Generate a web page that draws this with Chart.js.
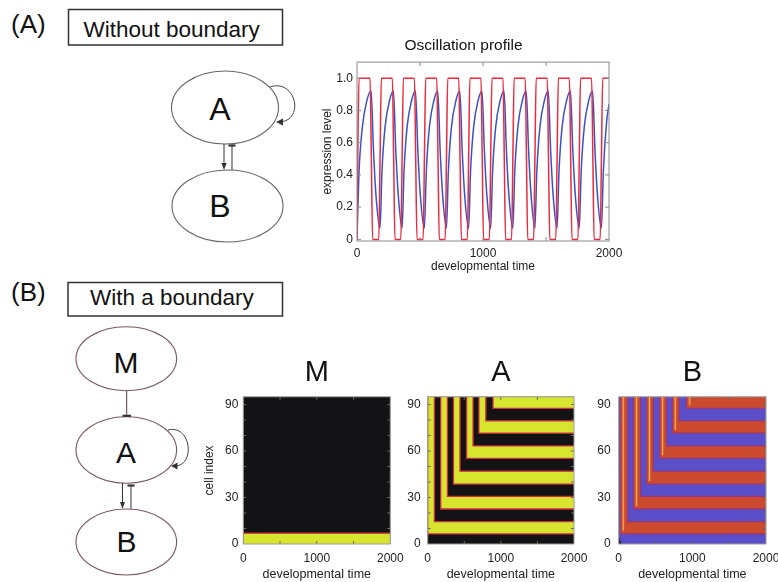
<!DOCTYPE html>
<html>
<head>
<meta charset="utf-8">
<script src="https://cdn.jsdelivr.net/npm/chart.js@4/dist/chart.umd.min.js"></script>
<style>
  html, body { margin: 0; padding: 0; background: #fff; }
  #page { position: relative; width: 778px; height: 582px; overflow: hidden; }
  .box { position: absolute; }
  svg { position: absolute; left: 0; top: 0; }
  svg text { font-family: 'Liberation Sans', Arial, sans-serif; fill: #111; }
</style>
</head>
<body>
<div id="page">
  <svg width="778" height="582" viewBox="0 0 778 582">
    <!-- (A) header -->
    <text x="11" y="33" font-size="26">(A)</text>
    <rect x="68.5" y="9.5" width="214" height="35.5" fill="none" stroke="#333" stroke-width="1.5"/>
    <text x="83.5" y="37" font-size="22.5">Without boundary</text>
    <!-- A/B network -->
    <ellipse cx="225" cy="107.5" rx="53.5" ry="36.5" fill="none" stroke="#666" stroke-width="1.1"/>
    <ellipse cx="227.5" cy="206" rx="55.5" ry="36" fill="none" stroke="#666" stroke-width="1.1"/>
    <text x="220" y="120" font-size="32" text-anchor="middle">A</text>
    <text x="220" y="216.5" font-size="32" text-anchor="middle">B</text>
    <line x1="224" y1="144" x2="224" y2="164" stroke="#333" stroke-width="1"/>
    <polygon points="221.3,163 226.7,163 224,170" fill="#333"/>
    <line x1="232" y1="170" x2="232" y2="146" stroke="#333" stroke-width="1"/>
    <line x1="228.5" y1="145.5" x2="235.5" y2="145.5" stroke="#333" stroke-width="2.2"/>
    <path d="M 270 87 C 296 78, 306 122, 278 122" fill="none" stroke="#444" stroke-width="1"/>
    <polygon points="276,122 283,118.5 283,125.5" fill="#333"/>

    <!-- (B) header -->
    <text x="11" y="301" font-size="26">(B)</text>
    <rect x="68" y="282.5" width="214.5" height="33.5" fill="none" stroke="#333" stroke-width="1.5"/>
    <text x="90" y="305" font-size="22.5">With a boundary</text>
    <!-- M/A/B network -->
    <ellipse cx="126.3" cy="358.7" rx="50.3" ry="32" fill="none" stroke="#7a5858" stroke-width="1.1"/>
    <ellipse cx="126.3" cy="450" rx="50.3" ry="33.3" fill="none" stroke="#7a5858" stroke-width="1.1"/>
    <ellipse cx="126.3" cy="542" rx="50.3" ry="33" fill="none" stroke="#7a5858" stroke-width="1.1"/>
    <text x="126" y="372.5" font-size="30" text-anchor="middle">M</text>
    <text x="126" y="463" font-size="30" text-anchor="middle">A</text>
    <text x="126.5" y="552" font-size="30" text-anchor="middle">B</text>
    <line x1="126.7" y1="390.7" x2="126.7" y2="416" stroke="#5a4040" stroke-width="1"/>
    <line x1="122.5" y1="415.8" x2="131" y2="415.8" stroke="#333" stroke-width="2.2"/>
    <line x1="122.5" y1="483" x2="122.5" y2="503" stroke="#333" stroke-width="1"/>
    <polygon points="120,502 125,502 122.5,509" fill="#333"/>
    <line x1="131" y1="509" x2="131" y2="486" stroke="#333" stroke-width="1"/>
    <line x1="127.5" y1="485.5" x2="134.5" y2="485.5" stroke="#333" stroke-width="2.2"/>
    <path d="M 168 430 C 192 424, 196 468, 173 466" fill="none" stroke="#444" stroke-width="1"/>
    <polygon points="171,466 177.5,462.5 177.5,469.5" fill="#333"/>
  </svg>

  <div class="box" style="left:318px;top:30px;width:310px;height:250px"><canvas id="osc"></canvas></div>
  <div class="box" style="left:198px;top:356px;width:206px;height:226px"><canvas id="hmM"></canvas></div>
  <div class="box" style="left:404px;top:356px;width:184px;height:226px"><canvas id="hmA"></canvas></div>
  <div class="box" style="left:595px;top:356px;width:183px;height:226px"><canvas id="hmB"></canvas></div>
</div>

<script>
// ================= DATA =================
// --- (A) oscillation profile ---
const timeTicks = [0, 1000, 2000];              // labelled time ticks
const timeMarks = [0, 500, 1000, 1500, 2000];   // tick marks on the time axis
const levelTicks = [0, 0.2, 0.4, 0.6, 0.8, 1.0];
const levelTickLabels = ['0', '0.2', '0.4', '0.6', '0.8', '1.0'];

// A expression level (red) : [time, level]
const aLevel = [
  [0,0],[6,0.5],[16,1],[104,1],[114,0.5],[124,0],
  [173,0],[183,0.5],[193,1],[281,1],[291,0.5],[301,0],
  [348,0],[358,0.5],[368,1],[456,1],[466,0.5],[476,0],
  [525,0],[535,0.5],[545,1],[633,1],[643,0.5],[653,0],
  [700,0],[710,0.5],[720,1],[808,1],[818,0.5],[828,0],
  [876,0],[886,0.5],[896,1],[984,1],[994,0.5],[1004,0],
  [1051,0],[1061,0.5],[1071,1],[1159,1],[1169,0.5],[1179,0],
  [1227,0],[1237,0.5],[1247,1],[1335,1],[1345,0.5],[1355,0],
  [1402,0],[1412,0.5],[1422,1],[1510,1],[1520,0.5],[1530,0],
  [1578,0],[1588,0.5],[1598,1],[1686,1],[1696,0.5],[1706,0],
  [1754,0],[1764,0.5],[1774,1],[1862,1],[1872,0.5],[1882,0],
  [1930,0],[1940,0.5],[1950,1],[2000,1]
];
// B expression level (blue) : [time, level]
const bLevel = [
  [0,0],[15,0.4],[40,0.68],[75,0.85],[112,0.92],[131,0.55],[151,0.27],[183,0.07],
  [198,0.42],[223,0.7],[258,0.86],[289,0.92],[308,0.55],[328,0.27],[358,0.07],
  [373,0.42],[398,0.7],[433,0.86],[464,0.92],[483,0.55],[503,0.27],[535,0.07],
  [550,0.42],[575,0.7],[610,0.86],[641,0.92],[660,0.55],[680,0.27],[710,0.07],
  [725,0.42],[750,0.7],[785,0.86],[816,0.92],[835,0.55],[855,0.27],[886,0.07],
  [901,0.42],[926,0.7],[961,0.86],[992,0.92],[1011,0.55],[1031,0.27],[1061,0.07],
  [1076,0.42],[1101,0.7],[1136,0.86],[1167,0.92],[1186,0.55],[1206,0.27],[1237,0.07],
  [1252,0.42],[1277,0.7],[1312,0.86],[1343,0.92],[1362,0.55],[1382,0.27],[1412,0.07],
  [1427,0.42],[1452,0.7],[1487,0.86],[1518,0.92],[1537,0.55],[1557,0.27],[1588,0.07],
  [1603,0.42],[1628,0.7],[1663,0.86],[1694,0.92],[1713,0.55],[1733,0.27],[1764,0.07],
  [1779,0.42],[1804,0.7],[1839,0.86],[1870,0.92],[1889,0.55],[1909,0.27],[1940,0.07],
  [1955,0.42],[1980,0.72],[2000,0.84]
];

// --- (B) space-time maps ---
const cellTicks = [0, 30, 60, 90];                       // labelled cell-index ticks
const cellMarks = [0, 10, 20, 30, 40, 50, 60, 70, 80, 90];
const cellMax = 95;
const mHighTop = 7;                                       // M is high in cells 0..7
// lower edges of the frozen stripes (last value = top of the tissue)
const bandEdges = [6.5, 14.5, 22.6, 30.8, 38.7, 47, 55.2, 63.3, 71.5, 79.5, 87.5, 95];
// time at which each stripe freezes (A map)
const aFreezeTimes = [0, 92, 178, 270, 352, 442, 532, 620, 700, 795, 893];
// frozen A state of each stripe (1 = high / yellow)
const aBandHigh = [1, 0, 1, 0, 1, 0, 1, 0, 1, 0, 1];
// B map: red (high B) stripes – start / end of their vertical arm and time of the bright peak
const bRedStart = [22, 200, 378, 556, 728, 918];
const bRedEnd   = [122, 298, 470, 650, 822, 2000];
const bPeakTimes = [62, 242, 418, 596, 768, 965];
const bDarkCorner = [[0, 5], [40, 0]];

// ================= CHARTS =================
Chart.defaults.font.family = "'Liberation Sans', Arial, sans-serif";
Chart.defaults.color = '#222';

const timeEnd = timeTicks[timeTicks.length - 1];
const overTop = cellMax + 1;

const framePlugin = {
  id: 'frame',
  beforeDraw(chart, args, opts) {
    if (!opts.bg) return;
    const a = chart.chartArea, ctx = chart.ctx;
    ctx.save();
    ctx.fillStyle = opts.bg;
    ctx.fillRect(a.left, a.top, a.right - a.left, a.bottom - a.top);
    ctx.restore();
  },
  afterDraw(chart, args, opts) {
    const a = chart.chartArea, ctx = chart.ctx;
    const xs = chart.scales.x, ys = chart.scales.y;
    const L = opts.tickLen || 4;
    ctx.save();
    ctx.strokeStyle = opts.tickColor || '#666';
    ctx.lineWidth = 1;
    ctx.beginPath();
    xs.ticks.forEach(t => {
      const p = xs.getPixelForValue(t.value);
      if (p <= a.left + 1 || p >= a.right - 1) return;
      ctx.moveTo(p, a.bottom); ctx.lineTo(p, a.bottom - L);
      ctx.moveTo(p, a.top); ctx.lineTo(p, a.top + L);
    });
    ys.ticks.forEach(t => {
      const p = ys.getPixelForValue(t.value);
      if (p <= a.top + 1 || p >= a.bottom - 1) return;
      ctx.moveTo(a.left, p); ctx.lineTo(a.left + L, p);
      ctx.moveTo(a.right, p); ctx.lineTo(a.right - L, p);
    });
    ctx.stroke();
    ctx.strokeStyle = opts.color || '#888';
    ctx.strokeRect(a.left, a.top, a.right - a.left, a.bottom - a.top);
    ctx.restore();
  }
};

const pts = arr => arr.map(([x, y]) => ({ x, y }));
const noGrid = { display: false, drawTicks: false, tickLength: 0 };

// ---- Oscillation profile ----
new Chart(document.getElementById('osc'), {
  type: 'line',
  data: {
    datasets: [
      { label: 'A', data: pts(aLevel), borderColor: '#ec2a3e', borderWidth: 1.5, pointRadius: 0,
        cubicInterpolationMode: 'monotone', fill: false, clip: 0 },
      { label: 'B', data: pts(bLevel), borderColor: '#3b52c2', borderWidth: 1.5, pointRadius: 0,
        cubicInterpolationMode: 'monotone', fill: false, clip: 0 }
    ]
  },
  options: {
    animation: false, responsive: true, maintainAspectRatio: false, events: [],
    layout: { padding: { left: 0, right: 19, top: 0, bottom: 0 } },
    plugins: {
      legend: { display: false }, tooltip: { enabled: false },
      title: { display: true, text: 'Oscillation profile', color: '#111',
               font: { size: 15.5, weight: 'normal' }, padding: { top: 6, bottom: 7.5 } },
      frame: { color: '#8a8a8a', tickColor: '#8a8a8a', tickLen: 4 }
    },
    scales: {
      x: {
        type: 'linear', min: 0, max: timeEnd,
        grid: noGrid, border: { display: false },
        afterBuildTicks: s => { s.ticks = timeMarks.map(v => ({ value: v })); },
        ticks: { autoSkip: false, maxRotation: 0, padding: 5, font: { size: 12 },
                 callback: v => timeTicks.includes(v) ? String(v) : '' },
        title: { display: true, text: 'developmental time', font: { size: 12 }, padding: { top: 0, bottom: 6 } },
        afterFit: s => { s.height = 39; s.paddingLeft = 0; s.paddingRight = 0; }
      },
      y: {
        type: 'linear', min: -0.01, max: 1.1,
        grid: noGrid, border: { display: false },
        afterBuildTicks: s => { s.ticks = levelTicks.map(v => ({ value: v })); },
        ticks: { autoSkip: false, padding: 4, font: { size: 12 },
                 callback: v => { const i = levelTicks.indexOf(v); return i >= 0 ? levelTickLabels[i] : ''; } },
        title: { display: true, text: 'expression level', font: { size: 12 }, padding: { top: 2, bottom: 0 } },
        afterFit: s => { s.width = 39; s.paddingTop = 0; s.paddingBottom = 0; }
      }
    }
  },
  plugins: [framePlugin]
});

// ---- heat-map helpers ----
function areaSet(points, lo, color, border, order) {
  return { data: pts(points), fill: { value: lo }, backgroundColor: color,
           borderColor: border || 'rgba(0,0,0,0)', borderWidth: border ? 1.3 : 0,
           pointRadius: 0, tension: 0, clip: 0, order };
}
function edgeSet(points, color, order) {
  return { data: pts(points), fill: false, borderColor: color, borderWidth: 1.3,
           pointRadius: 0, tension: 0, clip: 0, order };
}
function streakSet(p, lo, order) {
  const w = 24;
  return {
    data: pts([[p - w, overTop], [p + w, overTop]]), fill: { value: lo }, borderWidth: 0,
    pointRadius: 0, tension: 0, clip: 0, order,
    backgroundColor: c => {
      const ch = c.chart;
      if (!ch.chartArea || !ch.scales.x) return '#ee9440';
      const x = ch.scales.x;
      const g = ch.ctx.createLinearGradient(x.getPixelForValue(p - w), 0, x.getPixelForValue(p + w), 0);
      g.addColorStop(0, 'rgba(214,80,44,0)');
      g.addColorStop(0.32, 'rgba(232,130,60,0.85)');
      g.addColorStop(0.5, 'rgba(244,186,88,1)');
      g.addColorStop(0.7, 'rgba(230,120,56,0.8)');
      g.addColorStop(1, 'rgba(214,80,44,0)');
      return g;
    }
  };
}

function heatChart(id, title, datasets, cfg) {
  return new Chart(document.getElementById(id), {
    type: 'line',
    data: { datasets },
    options: {
      animation: false, responsive: true, maintainAspectRatio: false, events: [],
      layout: { padding: { left: 0, right: cfg.padRight, top: 0, bottom: 0 } },
      plugins: {
        legend: { display: false }, tooltip: { enabled: false },
        title: { display: true, text: title, fullSize: false, color: '#111',
                 font: { size: 29, weight: 'normal' }, padding: { top: 0, bottom: 6 } },
        frame: { bg: cfg.bg, color: '#9c9c9c', tickColor: '#666', tickLen: 3 }
      },
      scales: {
        x: {
          type: 'linear', min: 0, max: timeEnd,
          grid: noGrid, border: { display: false },
          afterBuildTicks: s => { s.ticks = timeMarks.map(v => ({ value: v })); },
          ticks: { autoSkip: false, maxRotation: 0, padding: 7.5, font: { size: 12 },
                   callback: v => timeTicks.includes(v) ? String(v) : '' },
          title: { display: true, text: 'developmental time', font: { size: 12.5 }, padding: { top: 0, bottom: 0 } },
          afterFit: s => { s.height = 38; s.paddingLeft = 0; s.paddingRight = 0; }
        },
        y: {
          type: 'linear', min: 0, max: cellMax,
          grid: noGrid, border: { display: false },
          afterBuildTicks: s => { s.ticks = cellMarks.map(v => ({ value: v })); },
          ticks: { autoSkip: false, padding: cfg.yPad, font: { size: 12 },
                   callback: v => cellTicks.includes(v) ? String(v) : '' },
          title: { display: !!cfg.yTitle, text: cfg.yTitle || '', font: { size: 12 }, padding: { top: 4, bottom: 0 } },
          afterFit: s => { s.width = cfg.yWidth; s.paddingTop = 0; s.paddingBottom = 0; }
        }
      }
    },
    plugins: [framePlugin]
  });
}

// ---- colours ----
const yellow = '#d8e52f', black = '#131315', edgeRed = '#cf2c45';
const bBlue = '#5a4fc8', bRed = '#cc4a2e', bEdge = '#93387e';

// ---- M map ----
const mSets = [ areaSet([[0, mHighTop], [timeEnd, mHighTop]], 0, yellow, edgeRed, 1) ];
heatChart('hmM', 'M', mSets, { bg: black, padRight: 13.7, yWidth: 45.3, yPad: 5, yTitle: 'cell index' });

// ---- A map ----
const aSets = [];
bandEdges.slice(0, -1).forEach((lo, k) => {
  if (!aBandHigh[k]) return;
  const hi = bandEdges[k + 1];
  const s = aFreezeTimes[k];
  const e = k + 1 < aFreezeTimes.length ? aFreezeTimes[k + 1] : timeEnd;
  aSets.push(areaSet([[s, overTop], [e, overTop], [e, hi], [timeEnd, hi]], lo, yellow, edgeRed, 2));
  aSets.push(edgeSet([[s, overTop], [s, lo], [timeEnd, lo]], edgeRed, 1));
});
heatChart('hmA', 'A', aSets, { bg: black, padRight: 14, yWidth: 23.7, yPad: 7 });

// ---- B map ----
const bSets = [ areaSet(bDarkCorner, 0, '#1e1634', null, 0) ];
let j = 0;
bandEdges.slice(0, -1).forEach((lo, k) => {
  if (!aBandHigh[k]) return;
  const hi = bandEdges[k + 1];
  const s = bRedStart[j], e = bRedEnd[j], p = bPeakTimes[j];
  bSets.push(areaSet([[s, overTop], [e, overTop], [e, hi], [timeEnd, hi]], lo, bRed, bEdge, 3));
  bSets.push(edgeSet([[s, overTop], [s, lo], [timeEnd, lo]], bEdge, 2));
  bSets.push(streakSet(p, lo + 2, 1));
  j++;
});
heatChart('hmB', 'B', bSets, { bg: bBlue, padRight: 12, yWidth: 23.7, yPad: 8 });
</script>
</body>
</html>
